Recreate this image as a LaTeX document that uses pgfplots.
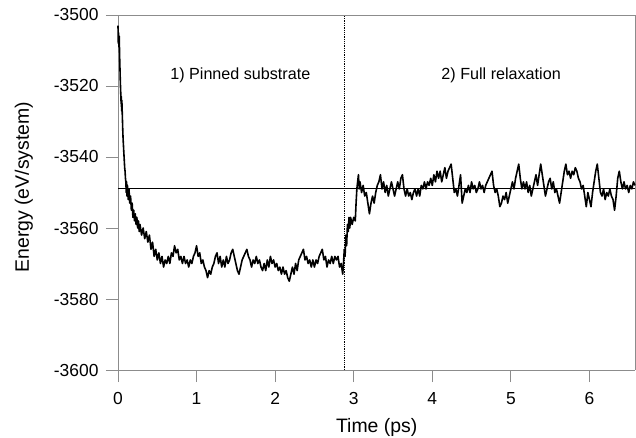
\documentclass[border=0pt]{standalone}
\usepackage{pgfplots}
\pgfplotsset{compat=1.18}
\usepackage{fontspec}
\setmainfont{Liberation Sans}
\definecolor{axgray}{RGB}{140,140,140}
\begin{document}
\begin{tikzpicture}
\begin{axis}[
  scale only axis,
  width=517bp, height=355bp,
  xmin=0, xmax=6.58,
  ymin=-3600, ymax=-3500,
  xtick={0,1,2,3,4,5,6},
  ytick={-3600,-3580,-3560,-3540,-3520,-3500},
  axis x line*=bottom, axis y line*=left,
  axis line style={draw=axgray, line width=0.9pt, -},
  tick align=outside,
  major tick length=12bp,
  every tick/.style={draw=axgray, line width=0.9pt},
  xticklabel style={font=\fontsize{17.5}{20}\selectfont, text=black, yshift=-7bp},
  yticklabel style={font=\fontsize{17.5}{20}\selectfont, text=black, xshift=-4bp},
  xlabel={Time (ps)},
  ylabel={Energy (eV/system)},
  every axis x label/.style={at={(axis description cs:0.5004,-0.1766)}, anchor=base, font=\fontsize{19.5}{22}\selectfont},
  every axis y label/.style={at={(axis description cs:-0.182,0.515)}, rotate=90, anchor=center, font=\fontsize{19.5}{22}\selectfont},
  clip=false,
  /pgf/number format/assume math mode=true,
  /pgf/number format/set thousands separator={},
]
\coordinate (SW) at (rel axis cs:0,0);
\draw[axgray, line width=0.9pt] (rel axis cs:0,1) -- (rel axis cs:1,1) -- (rel axis cs:1,0);
\pgfplotsinvokeforeach{0,1,2,3,4,5,6}{\draw[axgray, line width=0.9pt] (axis cs:#1,-3600) -- ([yshift=-12bp]axis cs:#1,-3600);}
\pgfplotsinvokeforeach{-3600,-3580,-3560,-3540,-3520,-3500}{\draw[axgray, line width=0.9pt] (axis cs:0,#1) -- ([xshift=-12bp]axis cs:0,#1);}
\addplot[black, line width=0.9pt] coordinates {(0,-3548.8) (6.58,-3548.8)};
\addplot[black, line width=0.8pt, densely dotted] coordinates {(2.88,-3600) (2.88,-3500)};
\addplot[black, line width=1.6pt, line join=round] table {
0.000 -3503
0.004 -3508
0.008 -3505
0.012 -3509
0.016 -3506
0.020 -3511
0.025 -3515
0.030 -3519
0.035 -3522
0.040 -3525
0.043 -3523
0.046 -3527
0.049 -3524
0.052 -3526
0.056 -3529
0.060 -3532
0.065 -3535
0.070 -3537
0.075 -3539
0.080 -3541
0.085 -3543
0.090 -3544
0.095 -3546
0.100 -3547
0.105 -3550
0.110 -3547
0.115 -3551
0.120 -3548
0.13 -3552
0.14 -3549
0.15 -3553
0.16 -3551
0.17 -3555
0.18 -3553
0.19 -3557
0.20 -3555
0.21 -3558
0.22 -3556
0.23 -3559
0.24 -3557
0.25 -3560
0.26 -3558
0.27 -3561
0.28 -3559
0.30 -3562
0.32 -3560
0.34 -3563
0.36 -3561
0.38 -3564
0.40 -3562
0.42 -3566
0.44 -3564
0.46 -3568
0.48 -3566
0.50 -3569
0.52 -3567
0.54 -3570
0.56 -3568
0.58 -3571
0.60 -3569
0.62 -3570
0.64 -3568
0.66 -3570
0.68 -3567
0.70 -3568
0.72 -3565
0.74 -3567
0.76 -3566
0.78 -3569
0.80 -3568
0.82 -3570
0.84 -3568
0.86 -3570
0.88 -3569
0.90 -3571
0.92 -3569
0.94 -3570
0.96 -3568
0.98 -3567
1.00 -3565
1.02 -3568
1.04 -3567
1.06 -3570
1.08 -3569
1.10 -3571
1.12 -3572
1.14 -3574
1.16 -3572
1.18 -3573
1.20 -3571
1.22 -3570
1.24 -3568
1.26 -3567
1.28 -3570
1.30 -3568
1.32 -3571
1.34 -3569
1.36 -3571
1.38 -3568
1.40 -3570
1.42 -3569
1.44 -3567
1.46 -3566
1.48 -3568
1.50 -3570
1.52 -3572
1.54 -3573
1.56 -3571
1.58 -3569
1.60 -3568
1.62 -3567
1.64 -3566
1.66 -3568
1.68 -3569
1.70 -3571
1.72 -3569
1.74 -3570
1.76 -3568
1.78 -3570
1.80 -3569
1.82 -3571
1.84 -3572
1.86 -3570
1.88 -3572
1.90 -3569
1.92 -3571
1.94 -3568
1.96 -3570
1.98 -3569
2.00 -3571
2.02 -3570
2.04 -3572
2.06 -3571
2.08 -3573
2.10 -3571
2.12 -3573
2.14 -3572
2.16 -3574
2.18 -3575
2.20 -3573
2.22 -3571
2.24 -3573
2.26 -3570
2.28 -3572
2.30 -3569
2.32 -3568
2.34 -3567
2.36 -3566
2.38 -3569
2.40 -3568
2.42 -3570
2.44 -3569
2.46 -3571
2.48 -3569
2.50 -3571
2.52 -3569
2.54 -3570
2.56 -3568
2.58 -3567
2.60 -3566
2.62 -3569
2.64 -3568
2.66 -3571
2.68 -3569
2.70 -3570
2.72 -3568
2.74 -3570
2.76 -3568
2.78 -3569
2.80 -3568
2.82 -3571
2.84 -3570
2.86 -3573
2.87 -3570
2.88 -3566
2.89 -3568
2.90 -3562
2.91 -3565
2.92 -3559
2.93 -3561
2.94 -3557
2.95 -3560
2.96 -3557
2.98 -3559
3.00 -3557
3.02 -3558
3.03 -3553
3.04 -3549
3.05 -3547
3.06 -3545
3.07 -3549
3.08 -3547
3.10 -3550
3.12 -3548
3.14 -3551
3.16 -3550
3.18 -3553
3.20 -3556
3.22 -3553
3.24 -3551
3.26 -3553
3.28 -3550
3.30 -3548
3.32 -3547
3.34 -3545
3.36 -3549
3.38 -3547
3.40 -3550
3.42 -3548
3.44 -3551
3.46 -3549
3.48 -3547
3.50 -3549
3.52 -3551
3.54 -3549
3.56 -3547
3.58 -3549
3.60 -3546
3.62 -3545
3.64 -3549
3.66 -3551
3.68 -3549
3.70 -3551
3.72 -3550
3.74 -3552
3.76 -3550
3.78 -3549
3.80 -3551
3.82 -3549
3.84 -3551
3.86 -3548
3.88 -3549
3.90 -3547
3.92 -3549
3.94 -3547
3.96 -3548
3.98 -3546
4.00 -3548
4.02 -3545
4.04 -3547
4.06 -3544
4.08 -3546
4.10 -3544
4.12 -3547
4.14 -3545
4.16 -3543
4.18 -3546
4.20 -3544
4.22 -3543
4.24 -3542
4.26 -3546
4.28 -3550
4.30 -3549
4.32 -3551
4.34 -3548
4.36 -3545
4.38 -3553
4.40 -3551
4.42 -3549
4.44 -3550
4.46 -3548
4.48 -3550
4.50 -3547
4.52 -3549
4.54 -3548
4.56 -3550
4.58 -3549
4.60 -3547
4.62 -3549
4.64 -3548
4.66 -3550
4.68 -3548
4.70 -3547
4.72 -3546
4.74 -3545
4.76 -3544
4.78 -3548
4.80 -3550
4.82 -3549
4.84 -3551
4.86 -3554
4.88 -3553
4.90 -3551
4.92 -3552
4.94 -3550
4.96 -3553
4.98 -3551
5.00 -3549
5.02 -3547
5.04 -3549
5.06 -3546
5.08 -3544
5.10 -3542
5.12 -3546
5.14 -3549
5.16 -3547
5.18 -3549
5.20 -3547
5.22 -3550
5.24 -3548
5.26 -3551
5.28 -3549
5.30 -3547
5.32 -3545
5.34 -3548
5.36 -3545
5.38 -3542
5.40 -3545
5.42 -3548
5.44 -3551
5.46 -3549
5.48 -3547
5.50 -3546
5.52 -3549
5.54 -3547
5.56 -3550
5.58 -3549
5.60 -3551
5.62 -3553
5.64 -3550
5.66 -3547
5.68 -3544
5.70 -3542
5.72 -3545
5.74 -3544
5.76 -3546
5.78 -3544
5.80 -3545
5.82 -3543
5.84 -3544
5.86 -3546
5.88 -3547
5.90 -3549
5.92 -3548
5.94 -3551
5.96 -3554
5.98 -3550
6.00 -3552
6.02 -3554
6.04 -3550
6.06 -3547
6.08 -3544
6.10 -3542
6.12 -3546
6.14 -3550
6.16 -3551
6.18 -3549
6.20 -3552
6.22 -3550
6.24 -3551
6.26 -3549
6.28 -3551
6.30 -3552
6.32 -3555
6.34 -3551
6.36 -3546
6.38 -3544
6.40 -3547
6.42 -3549
6.44 -3547
6.46 -3549
6.48 -3548
6.50 -3550
6.52 -3548
6.54 -3549
6.56 -3547
6.58 -3548
};
\node[anchor=base, font=\fontsize{16.2}{18}\selectfont] at (axis cs:1.557,-3518.3) {1) Pinned substrate};
\node[anchor=base, font=\fontsize{16.2}{18}\selectfont] at (axis cs:4.876,-3518.3) {2) Full relaxation};
\end{axis}
\pgfresetboundingbox
\path[use as bounding box] ([xshift=-118bp,yshift=-68bp]SW) rectangle ++(636bp,438bp);
\end{tikzpicture}
\end{document}
